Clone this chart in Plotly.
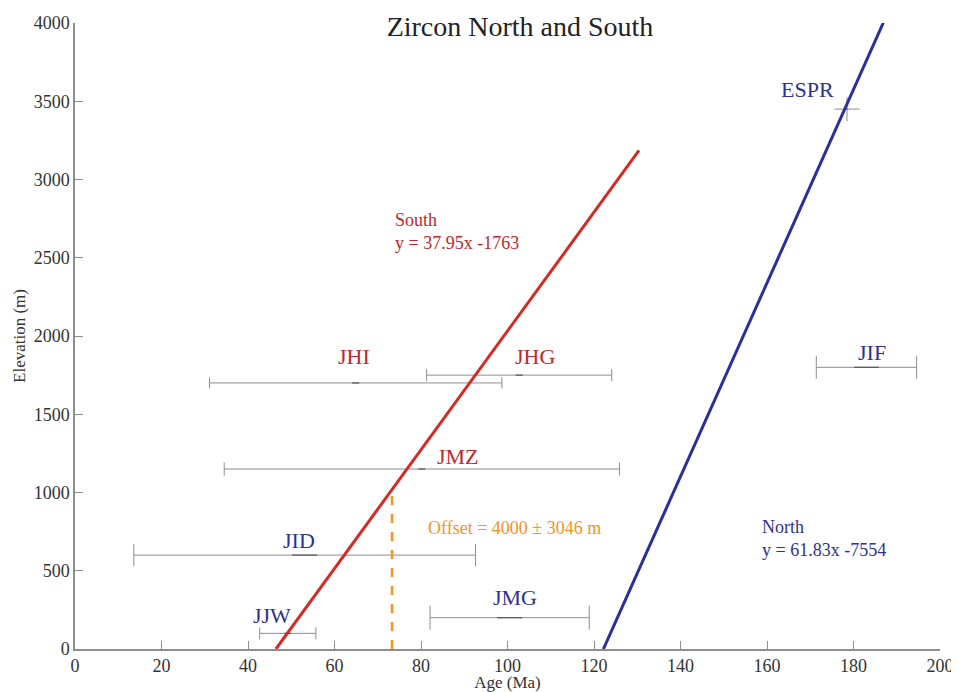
import plotly.graph_objects as go

# ---- data ----
samples = ["JJW", "JID", "JMG", "JMZ", "JHI", "JHG", "JIF", "ESPR"]
group = ["North", "North", "North", "South", "South", "South", "North", "North"]
age = [49.2, 53.1, 100.5, 80.2, 64.9, 102.7, 183.0, 178.5]
age_err = [6.5, 39.5, 18.4, 45.7, 33.8, 21.4, 11.6, 2.9]
elev = [100, 600, 200, 1150, 1700, 1750, 1800, 3450]
elev_err = [0, 0, 0, 0, 0, 0, 0, 76]

south_slope, south_icpt = 37.95, -1763
north_slope, north_icpt = 61.83, -7554
south_fit_x = [46.46, 130.4]
north_fit_x = [122.17, 186.9]
offset_age = 73.3
offset_text = "Offset = 4000 ± 3046 m"

x_ticks = [0, 20, 40, 60, 80, 100, 120, 140, 160, 180, 200]
y_ticks = [0, 500, 1000, 1500, 2000, 2500, 3000, 3500, 4000]

# ---- styles ----
RED = "#d42a26"
BLUE = "#2b2f9b"
RED_TXT = "#c1272d"
BLUE_TXT = "#2e3192"
ORANGE = "#f7941d"
GRAY = "#8e8e8e"
FONT = "Liberation Serif"

cap_half = [6, 11, 12, 6.5, 5.5, 6, 11.5, 0]
mark_size = [5, 18, 18, 5, 5, 5, 18, 0]
label_dx = [-16, -6, 5, 36, -2, 16, 6, -40]
label_dy = [18, 15, 20, 13, 26, 19, 15, 20]

fig = go.Figure()

# error bars
for i, s in enumerate(samples):
    ey = dict(type="data", array=[elev_err[i]], symmetric=True, color=GRAY,
              thickness=1, width=cap_half[i], visible=elev_err[i] > 0)
    fig.add_trace(go.Scatter(
        x=[age[i]], y=[elev[i]], mode="markers",
        marker=dict(symbol="line-ew-open", size=max(mark_size[i], 1),
                    color="#555555",
                    line=dict(color="#555555", width=1.2 if mark_size[i] else 0)),
        error_x=dict(type="data", array=[age_err[i]], symmetric=True, color=GRAY,
                     thickness=1, width=cap_half[i]),
        error_y=ey,
        showlegend=False, hoverinfo="skip"))

# fit lines
fig.add_trace(go.Scatter(
    x=south_fit_x, y=[south_slope * v + south_icpt for v in south_fit_x],
    mode="lines", line=dict(color=RED, width=3), showlegend=False))
fig.add_trace(go.Scatter(
    x=north_fit_x, y=[north_slope * v + north_icpt for v in north_fit_x],
    mode="lines", line=dict(color=BLUE, width=3), showlegend=False))

# offset dashed line
fig.add_trace(go.Scatter(
    x=[offset_age, offset_age], y=[0, south_slope * offset_age + south_icpt],
    mode="lines", line=dict(color=ORANGE, width=2.5, dash="dash"), showlegend=False))

# sample labels
for i, s in enumerate(samples):
    fig.add_annotation(x=age[i], y=elev[i], text=s, showarrow=False,
                       xshift=label_dx[i], yshift=label_dy[i],
                       xanchor="center", yanchor="middle",
                       font=dict(family=FONT, size=22,
                                 color=RED_TXT if group[i] == "South" else BLUE_TXT))

# equations
fig.add_annotation(x=73.5, y=2665, xanchor="left", yanchor="middle", align="left",
                   showarrow=False,
                   text=f"South<br>y = {south_slope:.2f}x {south_icpt}",
                   font=dict(family=FONT, size=18, color=RED_TXT))
fig.add_annotation(x=158.4, y=709, xanchor="left", yanchor="middle", align="left",
                   showarrow=False,
                   text=f"North<br>y = {north_slope:.2f}x {north_icpt}",
                   font=dict(family=FONT, size=18, color=BLUE_TXT))
fig.add_annotation(x=81.1, y=773, xanchor="left", yanchor="middle", align="left",
                   showarrow=False, text=offset_text,
                   font=dict(family=FONT, size=18, color=ORANGE))

axis_common = dict(showgrid=False, zeroline=False, showline=True, linecolor=GRAY,
                   linewidth=1.5, ticks="inside", ticklen=8, tickcolor=GRAY,
                   tickwidth=1.2, automargin=False,
                   tickfont=dict(family=FONT, size=18, color="#333333"))

# the page body has an 8px margin, so the figure is 8px smaller and shifted
fig.update_layout(
    width=951, height=684,
    margin=dict(l=67, r=19, t=15, b=43),
    paper_bgcolor="white", plot_bgcolor="white",
    title=dict(text="Zircon North and South", x=512 / 951, xanchor="center",
               y=1 - 18 / 684, yanchor="middle", yref="container",
               font=dict(family=FONT, size=28, color="#222222")),
    xaxis=dict(range=[0, 200], tickvals=x_ticks, **axis_common,
               title=dict(text="Age (Ma)", standoff=0,
                          font=dict(family=FONT, size=17, color="#333333"))),
    yaxis=dict(range=[0, 4000], tickvals=y_ticks, **axis_common,
               title=dict(text="Elevation (m)", standoff=4,
                          font=dict(family=FONT, size=17, color="#333333"))),
)

fig.write_html("out.html")
